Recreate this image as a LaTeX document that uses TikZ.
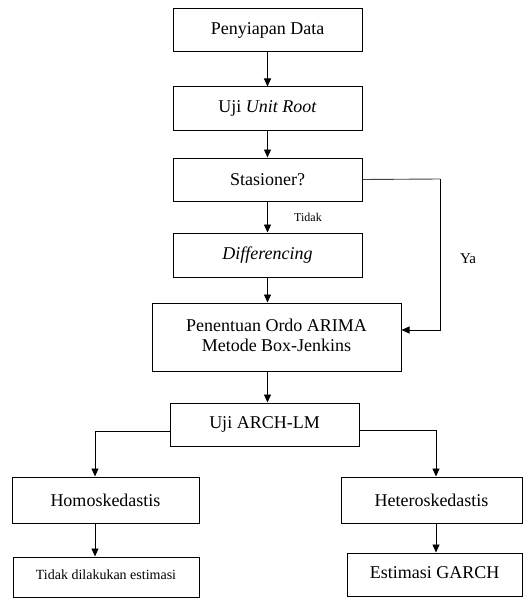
\documentclass[tikz,border=0pt]{standalone}
\usepackage{fontspec}
\setmainfont{Liberation Serif}
\usetikzlibrary{arrows.meta,calc}
\begin{document}
\begin{tikzpicture}[x=1pt,y=-1pt,
  box/.style={draw=black,line width=1pt,rectangle,inner sep=0pt,font=\fontsize{18}{20}\selectfont,align=center},
  conn/.style={draw=black,line width=0.9pt,-{Triangle[length=8pt,width=7pt]}},
  thin conn/.style={draw=black!75,line width=0.9pt}]
\useasboundingbox (0,0) rectangle (532,599);
\node[box,minimum width=189pt,minimum height=43pt] (p1) at (267.5,30.5) {Penyiapan Data};
\node[box,minimum width=189pt,minimum height=43pt] (p2) at (267.5,108.5) {Uji \textit{Unit Root}};
\node[box,minimum width=189pt,minimum height=43pt] (p3) at (267.5,179.5) {Stasioner?};
\node[box,minimum width=189pt,minimum height=44pt] (p4) at (267.5,255) {\textit{Differencing}};
\node[box,minimum width=249pt,minimum height=68pt] (p5) at (276.5,337) {\raisebox{5pt}{\begin{tabular}{@{}c@{}}Penentuan Ordo ARIMA\\[0pt]Metode Box-Jenkins\end{tabular}}};
\node[box,minimum width=189pt,minimum height=43pt] (p6) at (264.5,424.5) {Uji ARCH-LM};
\node[box,minimum width=187pt,minimum height=46pt] (p7) at (105.5,500) {Homoskedastis};
\node[box,minimum width=181pt,minimum height=46pt] (p8) at (431.5,500) {Heteroskedastis};
\node[box,minimum width=186pt,minimum height=40pt] (p9) at (106,577) {\raisebox{5pt}{\fontsize{14}{16}\selectfont Tidak dilakukan estimasi}};
\node[box,minimum width=175pt,minimum height=43pt] (p10) at (434.5,574.5) {\raisebox{3pt}{Estimasi GARCH}};

\node[font=\fontsize{12}{14}\selectfont] (tidak) at (308,217) {Tidak};
\node[font=\fontsize{15}{17}\selectfont] (ya) at (468,259) {Ya};

\draw[conn] (p1.south) -- (p2.north);
\draw[conn] (p2.south) -- (p3.north);
\draw[conn] (p3.south) -- (p4.north);
\draw[conn] (p4.south) -- (p4.south |- p5.north);
\draw[conn] (p4.south |- p5.south) -- (p4.south |- p6.north);
\coordinate (yc) at (440,179);
\draw[thin conn] (p3.east) -- (yc);
\draw[conn] (yc) |- ([yshift=7pt]p5.east);
\draw[conn] ([yshift=-7pt]p6.west) -| ([xshift=-10.5pt]p7.north);
\draw[conn] ([yshift=-6pt]p6.east) -| ([xshift=4.5pt]p8.north);
\draw[conn] ([xshift=-10.5pt]p7.south) -- ([xshift=-11pt]p9.north);
\draw[conn] ([xshift=4.5pt]p8.south) -- ([xshift=1.5pt]p10.north);
\end{tikzpicture}
\end{document}
